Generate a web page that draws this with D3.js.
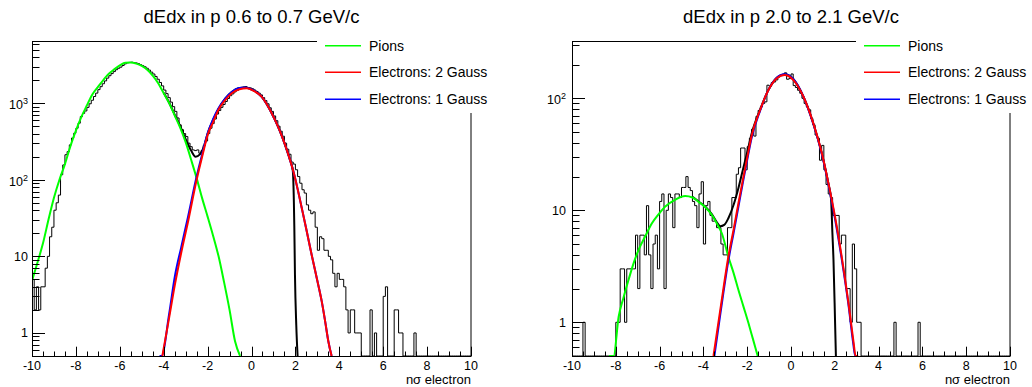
<!DOCTYPE html>
<html><head><meta charset="utf-8">
<script src="https://cdn.jsdelivr.net/npm/d3@7"></script>
<style>
body{margin:0;background:#fff;}
svg{display:block;}
text{font-family:"Liberation Sans",Arial,Helvetica,sans-serif;fill:#000;}
</style>
</head><body><svg id="c" width="1032" height="387"></svg>
<script>
// ---------------- data ----------------
const xRange = [-10, 10];
const nBins = 200;
const xMajorTicks = [-10, -8, -6, -4, -2, 0, 2, 4, 6, 8, 10];
const legendLabels = ["Pions", "Electrons: 2 Gauss", "Electrons: 1 Gauss"];
const titles = ["dEdx in p 0.6 to 0.7 GeV/c", "dEdx in p 2.0 to 2.1 GeV/c"];
const axisTitle = "nσ electron";
const leftYDecades = [1, 10, 100, 1000];
const rightYDecades = [1, 10, 100];

const leftCounts = [
  5, 2, 4, 2, 4, 4, 7, 10, 18, 24,
  40, 50, 63, 116, 156, 212, 233, 285, 350, 405,
  470, 547, 667, 735, 790, 880, 980, 1090, 1220, 1350,
  1500, 1640, 1790, 1950, 2120, 2280, 2430, 2580, 2730, 2850,
  2950, 3100, 3250, 3350, 3400, 3420, 3380, 3350, 3280, 3180,
  3080, 2980, 2850, 2700, 2540, 2400, 2230, 2050, 1860, 1680,
  1480, 1330, 1180, 1030, 900, 780, 640, 520, 450, 400,
  366, 300, 270, 245, 240, 245, 222, 240, 280, 320,
  400, 470, 540, 620, 720, 800, 880, 960, 1050, 1150,
  1250, 1320, 1400, 1460, 1510, 1560, 1620, 1640, 1600, 1580,
  1540, 1480, 1420, 1350, 1280, 1180, 1080, 980, 870, 780,
  680, 590, 500, 430, 370, 300, 250, 215, 170, 160,
  135, 110, 90, 74, 67, 47, 40, 36, 38, 24,
  12, 18, 17, 12, 12, 10, 9, 6, 4, 6,
  5, 5, 4, 2, 1, 2, 2, 1, 1, 1,
  0, 0, 0, 0, 2, 0, 1, 0, 0, 0,
  3, 4, 0, 0, 0, 2, 2, 1, 1, 0,
  0, 0, 0, 0, 1, 0, 0, 0, 0, 0,
  0, 0, 0, 0, 0, 0, 0, 0, 0, 0,
  0, 0, 0, 0, 0, 0, 0, 0, 0, 0
];

const rightCounts = [
  0, 0, 0, 0, 0, 1, 0, 0, 0, 0,
  0, 0, 0, 0, 0, 0, 0, 0, 0, 0,
  1, 1, 3, 3, 1, 3, 3, 3, 3, 6,
  2, 6, 6, 4, 11, 4, 2, 5, 6, 3,
  12, 14, 2, 10, 14, 13, 7, 14, 14, 13,
  16, 16, 20, 16, 15, 12, 11, 7, 14, 18,
  5, 11, 12, 9, 8, 8, 7, 7, 5, 4,
  4, 7, 7, 13, 13, 21, 24, 36, 36, 23,
  37, 44, 53, 46, 69, 78, 84, 90, 93, 131,
  128, 138, 140, 146, 155, 159, 160, 169, 148, 150,
  165, 130, 125, 118, 111, 100, 90, 84, 79, 66,
  58, 47, 44, 28, 38, 23, 17, 14, 13, 9,
  9, 9, 5, 6, 6, 2, 2, 1, 5, 3,
  1, 1, 0, 0, 0, 0, 0, 0, 0, 0,
  0, 0, 0, 0, 0, 0, 0, 1, 0, 0,
  0, 0, 0, 0, 0, 0, 0, 0, 1, 0,
  0, 0, 0, 0, 0, 0, 0, 0, 0, 0,
  0, 0, 0, 0, 0, 0, 0, 0, 0, 0,
  0, 0, 0, 0, 0, 0, 0, 0, 0, 0,
  0, 0, 0, 0, 0, 0, 0, 0, 0, 0
];

// fitted curves: [x, value]
const leftPion = [[-10,4.8],[-9.75,8.3],[-9.5,14.8],[-9.25,30],[-9,58],[-8.75,100],[-8.5,160],[-8.25,275],[-8,437],[-7.75,660],[-7.5,933],[-7.25,1300],[-7,1620],[-6.75,2000],[-6.5,2420],[-6.25,2760],[-6,3100],[-5.75,3370],[-5.5,3390],[-5.25,3280],[-5,3060],[-4.75,2730],[-4.5,2290],[-4.25,1820],[-4,1349],[-3.75,1000],[-3.5,692],[-3.25,479],[-3,309],[-2.75,182],[-2.5,105],[-2.25,57.5],[-2,33],[-1.75,18.6],[-1.5,10],[-1.25,4.6],[-1,2.0],[-0.75,0.78],[-0.52,0.32]];
const leftEle2 = [[-4.06,0.5],[-3.75,1.6],[-3.49,4.27],[-3.2,11.2],[-2.89,28.5],[-2.5,100],[-2.25,200],[-1.97,405],[-1.75,566],[-1.51,815],[-1.2,1096],[-0.9,1346],[-0.55,1514],[-0.22,1563],[0.1,1445],[0.46,1216],[0.75,912],[1.07,603],[1.3,427],[1.53,285],[1.72,195],[1.91,128],[2.1,76],[2.29,42.7],[2.5,22.4],[2.74,10.5],[3.0,4.8],[3.2,2.58],[3.35,1.45],[3.5,0.78],[3.65,0.5]];
const leftEle1 = [[-4.19,0.25],[-4.1,0.5],[-3.75,1.78],[-3.49,5.5],[-3.2,13.2],[-2.89,33],[-2.5,110],[-2.25,214],[-1.97,427],[-1.75,617],[-1.51,851],[-1.2,1148],[-0.9,1396],[-0.6,1567],[-0.3,1603],[0.1,1462],[0.46,1216],[0.75,912],[1.07,603],[1.3,427],[1.53,285],[1.72,195],[1.91,128],[2.1,76],[2.29,42.7],[2.5,22.4],[2.74,10.5],[3.0,4.8],[3.2,2.58],[3.35,1.45],[3.5,0.78],[3.65,0.5]];
const leftTotal = [[-4,1365],[-3.75,1012],[-3.5,708],[-3.25,501],[-3,339],[-2.75,240],[-2.55,200],[-2.35,214],[-2.15,282],[-2,398],[-1.75,603],[-1.51,832],[-1.2,1148],[-0.9,1396],[-0.6,1567],[-0.3,1603],[0.1,1462],[0.46,1216],[0.75,912],[1.07,603],[1.3,427],[1.53,285],[1.72,195],[1.88,132],[1.95,25],[1.98,5.75],[2.04,1.26],[2.1,0.5]];

const rightPion = [[-8.31,0.25],[-8.1,0.5],[-7.87,1.12],[-7.65,1.66],[-7.42,2.39],[-7.2,3.31],[-6.96,4.43],[-6.65,5.89],[-6.35,7.66],[-6.05,9.2],[-5.74,10.8],[-5.3,12.4],[-4.83,13.4],[-4.5,13.0],[-4.22,11.9],[-3.9,10.6],[-3.61,9.08],[-3.38,7.59],[-3.16,6.24],[-2.86,3.85],[-2.62,2.75],[-2.4,1.94],[-2.17,1.38],[-1.94,0.98],[-1.73,0.70],[-1.52,0.5]];
const rightEle2 = [[-3.54,0.5],[-3.2,1.41],[-2.86,3.85],[-2.62,6.76],[-2.4,11.6],[-2.2,18.6],[-2.02,28.2],[-1.79,47],[-1.41,78.7],[-1.03,118.6],[-0.65,151],[-0.3,161.4],[0.11,145.5],[0.57,103.3],[1.02,59.8],[1.41,32.3],[1.71,17.4],[2.01,8.77],[2.32,3.8],[2.62,1.51],[2.85,0.68],[2.95,0.5],[3.07,0.32]];
const rightEle1 = [[-3.5,0.5],[-3.2,1.29],[-2.86,3.55],[-2.62,6.31],[-2.4,10.8],[-2.2,17.6],[-2.02,26.9],[-1.79,45.2],[-1.41,77.6],[-1.03,118.9],[-0.65,153],[-0.3,164.4],[0.11,148],[0.57,103.3],[1.02,58.9],[1.41,31.6],[1.71,17.0],[2.01,8.4],[2.32,3.63],[2.62,1.45],[2.85,0.63],[2.93,0.5],[3.05,0.32]];
const rightTotal = [[-4.5,13.2],[-4.22,12],[-3.9,10.7],[-3.61,9.2],[-3.4,7.9],[-3.23,7.2],[-3.05,7.4],[-2.86,8.5],[-2.62,11.2],[-2.4,15.8],[-2.2,22.9],[-2.02,31.6],[-1.79,49],[-1.41,79.4],[-1.03,119],[-0.65,153],[-0.3,164],[0.11,148],[0.57,103],[1.02,59.6],[1.41,32],[1.71,17.2],[1.83,12.6],[1.89,6.3],[1.94,3.6],[2.01,1.05],[2.05,0.5]];

// ---------------- drawing ----------------
const svg = d3.select("#c");
const colors = {pion: "#00ff00", e2: "#ff0000", e1: "#0000ff", total: "#000000", hist: "#000000"};

const panels = [
  {id: "L", x0: 32, x1: 471, y0: 41, y1: 356, yDomain: [0.5, 6470], counts: leftCounts, decades: leftYDecades,
   pion: leftPion, e2: leftEle2, e1: leftEle1, total: leftTotal, title: titles[0], labOff: 4,
   leg: {x0: 317, x1: 516, y1: 113, lx0: 325, lx1: 361, tx: 369}},
  {id: "R", x0: 572, x1: 1010, y0: 41, y1: 356, yDomain: [0.5, 325], counts: rightCounts, decades: rightYDecades,
   pion: rightPion, e2: rightEle2, e1: rightEle1, total: rightTotal, title: titles[1], labOff: 6,
   leg: {x0: 856, x1: 1032, y1: 113, lx0: 864, lx1: 900, tx: 908}}
];
const legendRows = [45.7, 72.3, 99.3];

panels.forEach(p => {
  const x = d3.scaleLinear().domain(xRange).range([p.x0, p.x1]);
  const y = d3.scaleLog().domain(p.yDomain).range([p.y1, p.y0]);
  const yc = v => (v > p.yDomain[0]) ? Math.max(p.y0, Math.min(p.y1, y(v))) : p.y1;
  const g = svg.append("g");

  const clipId = "clip" + p.id;
  svg.append("clipPath").attr("id", clipId).append("rect")
    .attr("x", p.x0).attr("y", p.y0 - 1).attr("width", p.x1 - p.x0).attr("height", p.y1 - p.y0 + 1);

  // title
  g.append("text").attr("x", (p.x0 + p.x1) / 2).attr("y", 23).attr("text-anchor", "middle")
    .style("font-size", "18.5px").text(p.title);

  // histogram
  const bw = (xRange[1] - xRange[0]) / nBins;
  const pts = [[x(xRange[0]), p.y1]];
  p.counts.forEach((c, i) => {
    const lo = xRange[0] + i * bw, hi = lo + bw;
    pts.push([x(lo), yc(c)], [x(hi), yc(c)]);
  });
  pts.push([x(xRange[1]), p.y1]);
  const plot = g.append("g").attr("clip-path", `url(#${clipId})`);
  plot.append("path").attr("d", d3.line()(pts)).attr("fill", "none")
    .attr("stroke", colors.hist).attr("stroke-width", 1);

  const curve = d3.line().x(d => x(d[0])).y(d => yc(d[1])).curve(d3.curveMonotoneX);
  [["total", 2], ["pion", 2], ["e1", 2], ["e2", 2]].forEach(([k, w]) => {
    plot.append("path").attr("d", curve(p[k])).attr("fill", "none")
      .attr("stroke", colors[k]).attr("stroke-width", w).attr("stroke-linejoin", "round");
  });

  // frame
  g.append("rect").attr("x", p.x0 + 0.5).attr("y", p.y0 + 0.5)
    .attr("width", p.x1 - p.x0 - 0.5).attr("height", p.y1 - p.y0)
    .attr("fill", "none").attr("stroke", "#000").attr("stroke-width", 1);

  // x ticks
  const minorTicks = d3.range(xRange[0], xRange[1] + 0.001, 0.5);
  g.selectAll(null).data(minorTicks).enter().append("line")
    .attr("x1", d => Math.round(x(d)) + 0.5).attr("x2", d => Math.round(x(d)) + 0.5)
    .attr("y1", p.y1).attr("y2", d => xMajorTicks.includes(d) ? p.y1 - 9.3 : p.y1 - 4.5)
    .attr("stroke", "#000").attr("stroke-width", 1);
  g.selectAll(null).data(xMajorTicks).enter().append("text")
    .attr("x", d => x(d)).attr("y", 369.5).attr("text-anchor", "middle")
    .style("font-size", "12.5px").text(d => d);
  g.append("text").attr("x", p.x1).attr("y", 383.5).attr("text-anchor", "end")
    .style("font-size", "13px").text(axisTitle);

  // y log ticks
  const yt = [];
  for (let e = -1; e <= 4; e++) for (let m = 1; m <= 9; m++) {
    const v = m * Math.pow(10, e);
    if (v >= p.yDomain[0] && v <= p.yDomain[1]) yt.push({v, major: m === 1});
  }
  g.selectAll(null).data(yt).enter().append("line")
    .attr("x1", p.x0).attr("x2", d => p.x0 + (d.major ? 13 : 7.5))
    .attr("y1", d => Math.round(y(d.v)) + 0.5).attr("y2", d => Math.round(y(d.v)) + 0.5)
    .attr("stroke", "#000").attr("stroke-width", 1);
  p.decades.forEach(v => {
    const t = g.append("text").attr("x", p.x0 - p.labOff).attr("y", y(v) + 4.5)
      .attr("text-anchor", "end").style("font-size", "12.5px");
    const ex = Math.round(Math.log10(v));
    if (ex <= 1) t.text(v);
    else {
      t.attr("y", y(v) + 6);
      t.append("tspan").text("10");
      t.append("tspan").attr("dy", -5).style("font-size", "9px").text(ex);
    }
  });

  // legend
  const L = p.leg;
  g.append("rect").attr("x", L.x0).attr("y", 28).attr("width", L.x1 - L.x0).attr("height", L.y1 - 28)
    .attr("fill", "#fff");
  const legColors = [colors.pion, colors.e2, colors.e1];
  legendLabels.forEach((lab, i) => {
    g.append("line").attr("x1", L.lx0).attr("x2", L.lx1).attr("y1", legendRows[i]).attr("y2", legendRows[i])
      .attr("stroke", legColors[i]).attr("stroke-width", 1.5);
    g.append("text").attr("x", L.tx).attr("y", legendRows[i] + 5).style("font-size", "14px").text(lab);
  });
});
</script>
</body></html>
